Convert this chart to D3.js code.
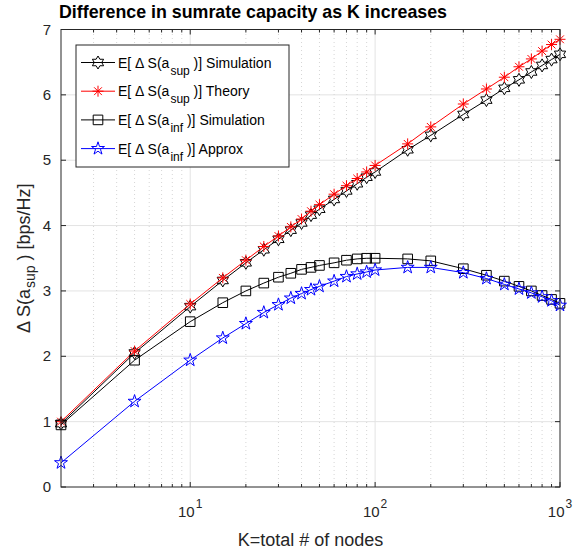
<!DOCTYPE html>
<html>
<head>
<meta charset="utf-8">
<script src="https://cdn.jsdelivr.net/npm/d3@7.9.0/dist/d3.min.js"></script>
<style>
  html, body { margin: 0; padding: 0; background: #fff; }
  text { font-family: "Liberation Sans", Arial, Helvetica, sans-serif; }
</style>
</head>
<body>
<div id="chart"></div>
<script>
// number of nodes K
const kValues = [2, 5, 10, 15, 20, 25, 30, 35, 40, 45, 50, 60, 70, 80, 90, 100,
  150, 200, 300, 400, 500, 600, 700, 800, 900, 1000];

// E[dS(a_sup)] simulation
const supSim = [0.97, 2.05, 2.76, 3.16, 3.43, 3.63, 3.79, 3.93, 4.04, 4.16, 4.25, 4.40, 4.53,
  4.64, 4.74, 4.82, 5.16, 5.38, 5.70, 5.92, 6.10, 6.23, 6.35, 6.45, 6.54, 6.62];
// E[dS(a_sup)] theory
const supTheory = [1.00, 2.08, 2.80, 3.20, 3.47, 3.68, 3.84, 3.98, 4.10, 4.22, 4.32, 4.48, 4.61,
  4.72, 4.82, 4.92, 5.25, 5.51, 5.86, 6.09, 6.27, 6.43, 6.55, 6.67, 6.77, 6.85];
// E[dS(a_inf)] simulation
const infSim = [0.95, 1.94, 2.53, 2.82, 3.00, 3.12, 3.21, 3.27, 3.33, 3.36, 3.39, 3.43, 3.47,
  3.49, 3.50, 3.50, 3.49, 3.46, 3.34, 3.24, 3.15, 3.07, 3.00, 2.93, 2.87, 2.81];
// E[dS(a_inf)] approximation
const infApprox = [0.37, 1.31, 1.94, 2.28, 2.50, 2.67, 2.79, 2.89, 2.96, 3.02, 3.07, 3.15, 3.22,
  3.26, 3.29, 3.32, 3.36, 3.36, 3.28, 3.19, 3.10, 3.03, 2.97, 2.91, 2.85, 2.78];

const yTicks = [0, 1, 2, 3, 4, 5, 6, 7];
const xMajor = [10, 100, 1000];
const xMinor = [3, 4, 5, 6, 7, 8, 9, 20, 30, 40, 50, 60, 70, 80, 90, 200, 300, 400, 500, 600, 700, 800, 900];

const series = [
  { name: "sup", label: " )] Simulation", values: supSim, color: "#000", marker: "hexagram" },
  { name: "sup", label: " )] Theory", values: supTheory, color: "#f00", marker: "asterisk" },
  { name: "inf", label: " )] Simulation", values: infSim, color: "#000", marker: "square" },
  { name: "inf", label: " )] Approx", values: infApprox, color: "#00f", marker: "pentagram" }
];

const W = 574, H = 556;
const m = { left: 61, right: 14, top: 29.5, bottom: 69 };

const svg = d3.select("#chart").append("svg")
  .attr("width", W).attr("height", H);

const x = d3.scaleLog().domain([2, 1000]).range([m.left, W - m.right]);
const y = d3.scaleLinear().domain([0, 7]).range([H - m.bottom, m.top]);

const x0 = x.range()[0], x1 = x.range()[1];
const y0 = y.range()[0], y1 = y.range()[1];

// grid
const grid = svg.append("g");
grid.selectAll("line.ymaj").data(yTicks.slice(1, -1)).join("line")
  .attr("x1", x0).attr("x2", x1)
  .attr("y1", d => y(d)).attr("y2", d => y(d))
  .attr("stroke", "#e3e3e3").attr("stroke-width", 1);
grid.selectAll("line.xmaj").data(xMajor.slice(0, -1)).join("line")
  .attr("x1", d => x(d)).attr("x2", d => x(d))
  .attr("y1", y0).attr("y2", y1)
  .attr("stroke", "#e3e3e3").attr("stroke-width", 1);
grid.selectAll("line.xmin").data(xMinor).join("line")
  .attr("x1", d => x(d)).attr("x2", d => x(d))
  .attr("y1", y0).attr("y2", y1)
  .attr("stroke", "#d6d6d6").attr("stroke-width", 1)
  .attr("stroke-dasharray", "1,3");

// markers
function starPath(n, R, r) {
  const pts = [];
  for (let i = 0; i < 2 * n; i++) {
    const a = -Math.PI / 2 + i * Math.PI / n;
    const rr = i % 2 === 0 ? R : r;
    pts.push([rr * Math.cos(a), rr * Math.sin(a)]);
  }
  return "M" + pts.map(p => p[0].toFixed(2) + "," + p[1].toFixed(2)).join("L") + "Z";
}
function markerPath(type) {
  if (type === "hexagram") return starPath(6, 6.5, 6.5 / Math.sqrt(3));
  if (type === "pentagram") return starPath(5, 6.8, 6.8 * 0.382);
  if (type === "square") return "M-4.8,-4.8H4.8V4.8H-4.8Z";
  // asterisk
  const r = 5.5, d = r * 0.707;
  return `M${-r},0H${r}M0,${-r}V${r}M${-d},${-d}L${d},${d}M${-d},${d}L${d},${-d}`;
}

const line = d3.line().x(d => x(d[0])).y(d => y(d[1]));

const plot = svg.append("g");
series.forEach(s => {
  const pts = kValues.map((k, i) => [k, s.values[i]]);
  plot.append("path").datum(pts)
    .attr("d", line).attr("fill", "none")
    .attr("stroke", s.color).attr("stroke-width", 1);
  plot.selectAll(null).data(pts).join("path")
    .attr("transform", d => `translate(${x(d[0])},${y(d[1])})`)
    .attr("d", markerPath(s.marker))
    .attr("fill", "none").attr("stroke", s.color).attr("stroke-width", 1);
});

// axes box and ticks
const ax = svg.append("g").attr("stroke", "#262626").attr("stroke-width", 1);
ax.append("rect").attr("x", x0).attr("y", y1)
  .attr("width", x1 - x0).attr("height", y0 - y1).attr("fill", "none");
yTicks.forEach(t => {
  ax.append("line").attr("x1", x0).attr("x2", x0 + 5).attr("y1", y(t)).attr("y2", y(t));
  ax.append("line").attr("x1", x1).attr("x2", x1 - 5).attr("y1", y(t)).attr("y2", y(t));
});
xMajor.forEach(t => {
  ax.append("line").attr("x1", x(t)).attr("x2", x(t)).attr("y1", y0).attr("y2", y0 - 5);
  ax.append("line").attr("x1", x(t)).attr("x2", x(t)).attr("y1", y1).attr("y2", y1 + 5);
});
xMinor.forEach(t => {
  ax.append("line").attr("x1", x(t)).attr("x2", x(t)).attr("y1", y0).attr("y2", y0 - 3);
  ax.append("line").attr("x1", x(t)).attr("x2", x(t)).attr("y1", y1).attr("y2", y1 + 3);
});

// tick labels
svg.selectAll("text.ytick").data(yTicks).join("text")
  .attr("x", x0 - 10).attr("y", d => y(d) + 5)
  .attr("text-anchor", "end").attr("font-size", 15).attr("fill", "#262626")
  .text(d => d);

xMajor.forEach((t, i) => {
  const tx = svg.append("text")
    .attr("x", x(t)).attr("y", y0 + 30)
    .attr("text-anchor", "middle").attr("font-size", 15).attr("fill", "#262626");
  tx.append("tspan").text("10");
  tx.append("tspan").attr("dy", -9).attr("dx", 1).attr("font-size", 12).text(i + 1);
});

// axis labels
svg.append("text")
  .attr("x", (x0 + x1) / 2).attr("y", H - 10)
  .attr("text-anchor", "middle").attr("font-size", 18).attr("fill", "#262626")
  .text("K=total # of nodes");

const yl = svg.append("text")
  .attr("transform", `translate(30,${(y0 + y1) / 2}) rotate(-90)`)
  .attr("text-anchor", "middle").attr("font-size", 18).attr("fill", "#262626");
yl.append("tspan").text("\u0394 S(a");
yl.append("tspan").attr("dy", 5).attr("dx", 1).attr("font-size", 14).text("sup");
yl.append("tspan").attr("dy", -5).text(" ) [bps/Hz]");

// title
svg.append("text")
  .attr("x", 59).attr("y", 18)
  .attr("font-size", 19).attr("font-weight", "bold").attr("fill", "#000")
  .attr("textLength", 388).attr("lengthAdjust", "spacingAndGlyphs")
  .text("Difference in sumrate capacity as K increases");

// legend
const lg = svg.append("g").attr("transform", "translate(76,45)");
lg.append("rect").attr("width", 213).attr("height", 122)
  .attr("fill", "#fff").attr("stroke", "#262626").attr("stroke-width", 1);
series.forEach((s, i) => {
  const cy = 17.5 + i * 28.7;
  lg.append("line").attr("x1", 5).attr("x2", 39).attr("y1", cy).attr("y2", cy)
    .attr("stroke", s.color).attr("stroke-width", 1);
  lg.append("path").attr("transform", `translate(22,${cy})`)
    .attr("d", markerPath(s.marker)).attr("fill", "none")
    .attr("stroke", s.color).attr("stroke-width", 1);
  const t = lg.append("text").attr("x", 42).attr("y", cy + 5)
    .attr("font-size", 14).attr("fill", "#000");
  t.append("tspan").text("E[ \u0394 S(a");
  t.append("tspan").attr("dy", 7).attr("dx", 1).attr("font-size", 12).text(s.name);
  t.append("tspan").attr("dy", -7).text(s.label);
});
</script>
</body>
</html>
